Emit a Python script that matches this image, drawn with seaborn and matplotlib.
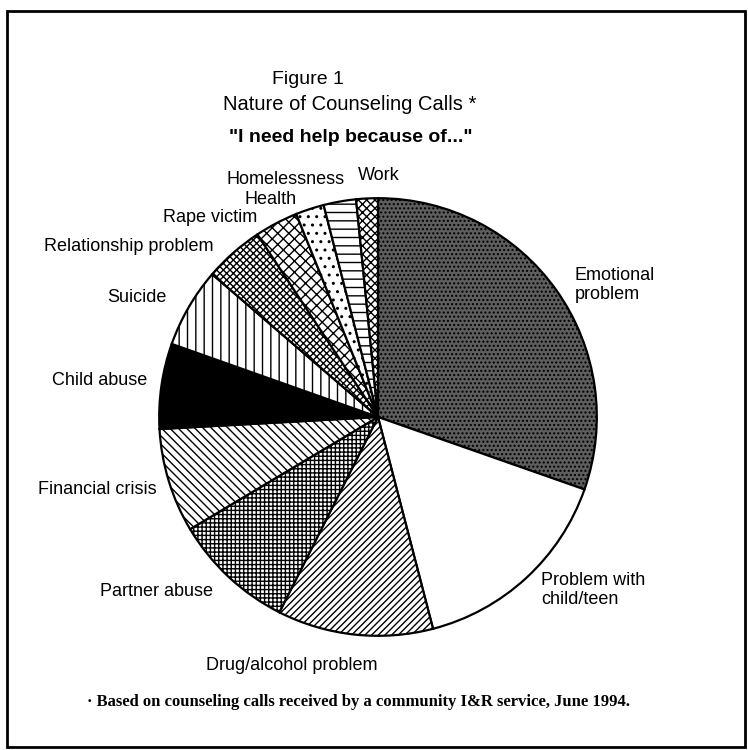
"""
Figura 1: naturaleza de las llamadas de consejeria (grafico de torta con tramas).
"""
import matplotlib
matplotlib.use("Agg")
import matplotlib.pyplot as plt
from matplotlib.patches import Rectangle
import seaborn as sns

# datos (porcentaje de llamadas)
categorias = [
    "Emotional problem", "Problem with child/teen", "Drug/alcohol problem",
    "Partner abuse", "Financial crisis", "Child abuse", "Suicide",
    "Relationship problem", "Rape victim", "Health", "Homelessness", "Work",
]
porcentajes = [30.4, 15.6, 11.5, 9.0, 7.7, 6.3, 5.9, 4.4, 3.2, 2.1, 2.4, 1.6]
etiquetas = [
    "Emotional\nproblem", "Problem with\nchild/teen", "Drug/alcohol problem",
    "Partner abuse", "Financial crisis", "Child abuse", "Suicide",
    "Relationship problem", "Rape victim", "Health", "Homelessness", "Work",
]

# estilo de cada sector (relleno, trama)
estilos = [
    ("#5e5e5e", "...."), ("white", ""), ("white", "/////"),
    ("white", "++++"), ("white", "\\\\\\\\"), ("black", ""),
    ("white", "||"), ("white", "xxxxx"), ("white", "xxx"),
    ("white", ".."), ("white", "--"), ("white", "xxxx"),
]
# posicion de etiquetas en pixeles (x, y desde arriba, alineacion)
pos_etiquetas = [
    (575, 285, "left"), (541, 590, "left"), (292, 666, "center"),
    (213, 591, "right"), (157, 490, "right"), (147, 380, "right"),
    (167, 297, "right"), (214, 247, "right"), (257, 218, "right"),
    (297, 200, "right"), (345, 180, "right"), (358, 175, "left"),
]

W, H = 748, 750
sns.set_theme(style="white")
plt.rcParams["font.family"] = ["Liberation Sans Narrow", "Liberation Sans", "DejaVu Sans"]
plt.rcParams["text.color"] = "black"
plt.rcParams["hatch.linewidth"] = 1.0

fig = plt.figure(figsize=(W / 100, H / 100), dpi=100)
fig.patch.set_facecolor("white")

# torta: centro (378, 417) px, radio 221 px
cx, cy, r = 378, 417, 221
ax = fig.add_axes([(cx - r) / W, (H - cy - r) / H, 2 * r / W, 2 * r / H])
wedges, _ = ax.pie(
    porcentajes, startangle=90, counterclock=False,
    wedgeprops=dict(edgecolor="black", linewidth=1.6),
)
for w, (fc, hatch) in zip(wedges, estilos):
    w.set_facecolor(fc)
    w.set_hatch(hatch)
ax.set_xlim(-1.01, 1.01)
ax.set_ylim(-1.01, 1.01)
ax.axis("off")

for texto, (x, y, ha) in zip(etiquetas, pos_etiquetas):
    fig.text(x / W, 1 - y / H, texto, ha=ha, va="center", fontsize=13,
             color="black", linespacing=1.1)

# titulos
fig.text(308 / W, 1 - 80 / H, "Figure 1", ha="center", va="center", fontsize=14)
fig.text(350 / W, 1 - 104 / H, "Nature of Counseling Calls *", ha="center",
         va="center", fontsize=14.5)
fig.text(351 / W, 1 - 138 / H, '"I need help because of..."', ha="center",
         va="center", fontsize=14, fontweight="bold")

# nota al pie
fig.text(87 / W, 1 - 702 / H,
         "\u00b7 Based on counseling calls received by a community I&R service, June 1994.",
         ha="left", va="center", fontsize=12, fontweight="bold",
         family=["Liberation Serif", "DejaVu Serif"])

# marco
fig.add_artist(Rectangle((7 / W, 3 / H), 738 / W, 1 - 14 / H,
                         transform=fig.transFigure, fill=False,
                         edgecolor="black", linewidth=2))

fig.savefig("out.png", dpi=100)
